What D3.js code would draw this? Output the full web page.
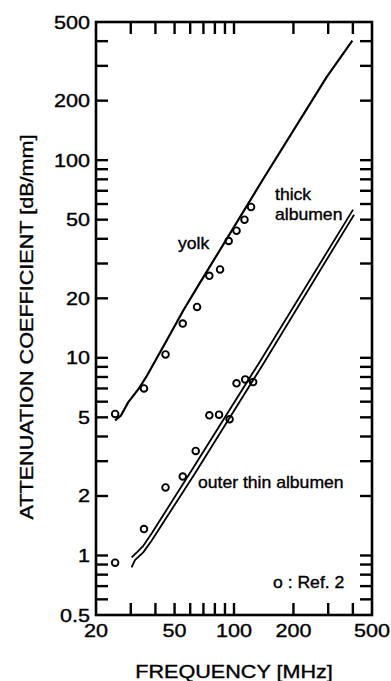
<!DOCTYPE html>
<html>
<head>
<meta charset="utf-8">
<script src="https://cdn.jsdelivr.net/npm/d3@7"></script>
<style>
  body { margin: 0; background: #fff; }
  text { font-family: "Liberation Sans", Arial, Helvetica, sans-serif; fill: #000; stroke: #000; stroke-width: 0.35px; }
</style>
</head>
<body>
<script>
const WIDTH = 391;
const HEIGHT = 681;
const margin = {left: 96, right: 19, top: 22, bottom: 65};

// fitted curves (frequency MHz, attenuation dB/mm)
const yolkFreq  = [25.0, 26.8, 29.1, 33.0, 35.8, 45.3, 55.8, 67.3, 139.8, 295, 397.6];
const yolkAtten = [4.83, 5.12, 5.95, 7.0, 7.96, 12.1, 17.6, 24.0, 79.6, 264, 402];

const thickFreq  = [30.3, 32.3, 34.6, 38.4, 60.6, 135.4, 400.9];
const thickAtten = [0.978, 1.04, 1.115, 1.30, 2.67, 9.59, 56.2];

const thinFreq  = [30.3, 31.5, 34.7, 38.3, 63.5, 141.1, 405.6];
const thinAtten = [0.87, 0.948, 1.037, 1.19, 2.61, 9.37, 53.0];

// measured points, Ref. 2
const refYolkFreq  = [25, 35, 45, 55, 65, 75, 85, 94, 103, 113, 122];
const refYolkAtten = [5.2, 7.0, 10.4, 14.9, 18.1, 26, 28, 39, 44, 50, 58];
const refThinFreq  = [25, 35, 45, 55, 64, 75, 84, 95, 103, 114, 125];
const refThinAtten = [0.92, 1.36, 2.21, 2.51, 3.38, 5.12, 5.16, 4.89, 7.43, 7.78, 7.54];

const xTicks = [30, 40, 50, 60, 70, 80, 90, 100, 200, 300, 400];
const yTicks = [0.6, 0.7, 0.8, 0.9, 1, 2, 3, 4, 5, 6, 7, 8, 9, 10, 20, 30, 40, 50, 60, 70, 80, 90, 100, 200, 300, 400];
const xTickLabels = [20, 50, 100, 200, 500];
const yTickLabels = [0.5, 1, 2, 5, 10, 20, 50, 100, 200, 500];

const x = d3.scaleLog().domain([20, 500]).range([margin.left, WIDTH - margin.right]);
const y = d3.scaleLog().domain([0.5, 500]).range([HEIGHT - margin.bottom - 1, margin.top]);

const svg = d3.select('body')
  .append('svg')
  .attr('width', WIDTH)
  .attr('height', HEIGHT);

// text is a bit wider than plain Helvetica in the scan
function label(str, px, py, opts) {
  const o = Object.assign({size: 18, sx: 1.2, anchor: 'start', rotate: 0}, opts);
  svg.append('g')
    .attr('transform', `translate(${px},${py}) rotate(${o.rotate}) scale(${o.sx},1)`)
    .append('text')
    .attr('font-size', o.size)
    .attr('text-anchor', o.anchor)
    .text(str);
}

const TICK = 12;
const x0 = x(20), x1 = x(500), y0 = y(0.5), y1 = y(500);

// inward ticks on all four sides
const ticks = svg.append('g')
  .attr('stroke', '#000')
  .attr('stroke-width', 2.4);
ticks.selectAll('line.xb').data(xTicks).enter().append('line')
  .attr('x1', d => x(d)).attr('x2', d => x(d))
  .attr('y1', y0).attr('y2', y0 - TICK);
ticks.selectAll('line.xt').data(xTicks).enter().append('line')
  .attr('x1', d => x(d)).attr('x2', d => x(d))
  .attr('y1', y1).attr('y2', y1 + TICK);
ticks.selectAll('line.yl').data(yTicks).enter().append('line')
  .attr('y1', d => y(d)).attr('y2', d => y(d))
  .attr('x1', x0).attr('x2', x0 + TICK);
ticks.selectAll('line.yr').data(yTicks).enter().append('line')
  .attr('y1', d => y(d)).attr('y2', d => y(d))
  .attr('x1', x1).attr('x2', x1 - TICK);

svg.append('rect')
  .attr('x', x0)
  .attr('y', y1)
  .attr('width', x1 - x0)
  .attr('height', y0 - y1)
  .attr('fill', 'none')
  .attr('stroke', '#000')
  .attr('stroke-width', 2.6);

xTickLabels.forEach(v => label(String(v), x(v), y0 + 22, {anchor: 'middle'}));
yTickLabels.forEach(v => label(String(v), x0 - 6, y(v) + 6.5, {anchor: 'end'}));

label('FREQUENCY  [MHz]', 234, 678, {anchor: 'middle'});
label('ATTENUATION  COEFFICIENT  [dB/mm]', 33, 327, {anchor: 'middle', rotate: -90});

const line = d3.line().x(d => x(d[0])).y(d => y(d[1]));
const curves = [
  {f: yolkFreq, a: yolkAtten, w: 2.2},
  {f: thickFreq, a: thickAtten, w: 1.8},
  {f: thinFreq, a: thinAtten, w: 1.8},
];
curves.forEach(c => {
  svg.append('path')
    .datum(d3.zip(c.f, c.a))
    .attr('d', line)
    .attr('fill', 'none')
    .attr('stroke', '#000')
    .attr('stroke-width', c.w)
    .attr('stroke-linejoin', 'round');
});

const refPoints = d3.zip(refYolkFreq, refYolkAtten).concat(d3.zip(refThinFreq, refThinAtten));
svg.selectAll('circle.ref')
  .data(refPoints)
  .enter()
  .append('circle')
  .attr('class', 'ref')
  .attr('cx', d => x(d[0]))
  .attr('cy', d => y(d[1]))
  .attr('r', 3.3)
  .attr('fill', 'none')
  .attr('stroke', '#000')
  .attr('stroke-width', 1.9);

label('yolk', 178, 249, {size: 16, sx: 1.1});
label('thick', 275, 200, {size: 16, sx: 1.1});
label('albumen', 275, 220, {size: 16, sx: 1.1});
label('outer thin albumen', 198, 488, {size: 16, sx: 1.1});
label('o : Ref. 2', 273, 588, {size: 16, sx: 1.1});
</script>
</body>
</html>
